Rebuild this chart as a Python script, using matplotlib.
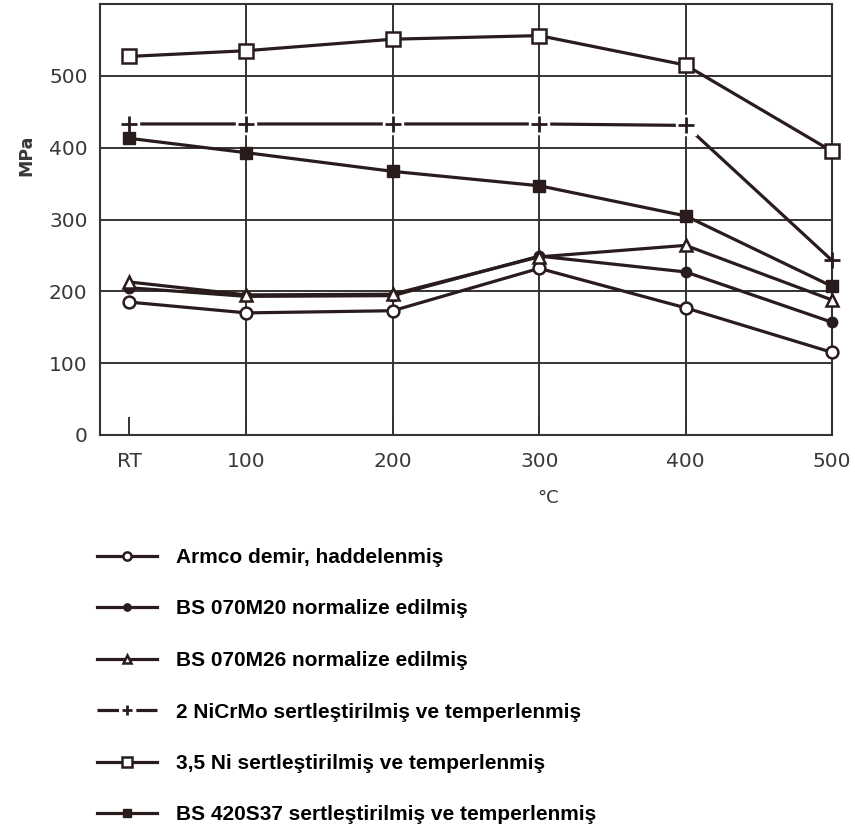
import matplotlib
matplotlib.use("Agg")
import matplotlib.pyplot as plt

# temperatures (RT plotted at 20 °C)
temps = [20, 100, 200, 300, 400, 500]
temp_labels = ["RT", "100", "200", "300", "400", "500"]

# strength values, MPa
armco = [185, 170, 173, 232, 177, 115]
m20 = [205, 193, 194, 249, 227, 157]
m26 = [213, 195, 196, 248, 264, 188]
nicrmo = [433, 433, 433, 433, 431, 243]
ni35 = [527, 535, 551, 556, 515, 395]
s37 = [413, 393, 367, 347, 305, 207]

names = [
    "Armco demir, haddelenmiş",
    "BS 070M20 normalize edilmiş",
    "BS 070M26 normalize edilmiş",
    "2 NiCrMo sertleştirilmiş ve temperlenmiş",
    "3,5 Ni sertleştirilmiş ve temperlenmiş",
    "BS 420S37 sertleştirilmiş ve temperlenmiş",
]

ink = "#2a1c1c"
grid_c = "#333333"
tick_c = "#383838"

fig = plt.figure(figsize=(8.55, 8.34), dpi=100)
ax = fig.add_axes([100 / 855, 1 - 435 / 834, 732 / 855, 431 / 834])

ax.set_xlim(0, 500)
ax.set_ylim(0, 600)
ax.set_xticks(temps)
ax.set_xticklabels(temp_labels)
ax.set_yticks([0, 100, 200, 300, 400, 500])

for x in [100, 200, 300, 400]:
    ax.axvline(x, color=grid_c, lw=1.4, zorder=1)
for y in [100, 200, 300, 400, 500]:
    ax.axhline(y, color=grid_c, lw=1.4, zorder=1)

for s in ax.spines.values():
    s.set_color(grid_c)
    s.set_linewidth(1.5)

ax.tick_params(axis="x", direction="in", length=13, width=1.4, color=grid_c,
               pad=12, labelsize=14.5, labelcolor=tick_c)
ax.tick_params(axis="y", length=0, pad=9, labelsize=14.5, labelcolor=tick_c)

lw = 2.3
ax.plot(temps, armco, color=ink, lw=lw, marker="o", ms=8.5, mfc="white",
        mec=ink, mew=1.8, zorder=4, clip_on=False, label=names[0])
ax.plot(temps, m20, color=ink, lw=lw, marker="o", ms=7.5, mfc=ink,
        mec=ink, zorder=4, clip_on=False, label=names[1])
ax.plot(temps, m26, color=ink, lw=lw, marker="^", ms=9, mfc="white",
        mec=ink, mew=1.8, zorder=4, clip_on=False, label=names[2])

# 2 NiCrMo: line broken around the markers up to 400 °C
ax.plot(temps[:5], nicrmo[:5], color=ink, lw=lw, zorder=3)
ax.plot(temps[4:], nicrmo[4:], color=ink, lw=lw, zorder=3, clip_on=False)
ax.plot(temps[:5], nicrmo[:5], ls="none", marker="s", ms=14, mfc="white",
        mec="white", zorder=3.5)
ax.plot(temps, nicrmo, ls="none", marker="+", ms=11, mec=ink, mew=2,
        zorder=4, clip_on=False)
# legend handle: dash - gap - "+" - gap - dash (dash lengths are scaled by lw)
ax.plot([], [], color=ink, lw=lw, ls=(0, (15.5 / lw, 12.5 / lw)), marker="+",
        ms=11, mew=2, mec=ink, label=names[3])

ax.plot(temps, ni35, color=ink, lw=lw, marker="s", ms=10, mfc="white",
        mec=ink, mew=1.8, zorder=4, clip_on=False, label=names[4])
ax.plot(temps, s37, color=ink, lw=lw, marker="s", ms=9, mfc=ink,
        mec=ink, zorder=4, clip_on=False, label=names[5])

ax.set_xlabel("°C", fontsize=13, color=tick_c)
ax.xaxis.set_label_coords(0.612, -0.125)
ax.set_ylabel("MPa", fontsize=12.5, color=tick_c, fontweight="bold")
ax.yaxis.set_label_coords(-0.088, 0.65)

handles, labels = ax.get_legend_handles_labels()
fig.legend(handles, labels, loc="upper left",
           bbox_to_anchor=(97 / 855, 1 - 548 / 834),
           frameon=False, borderpad=0, borderaxespad=0,
           handlelength=2.9, handletextpad=0.9, labelspacing=1.56,
           markerscale=0.7,
           prop={"family": "Liberation Sans", "weight": "bold", "size": 15})

fig.savefig("out.png", dpi=100)
